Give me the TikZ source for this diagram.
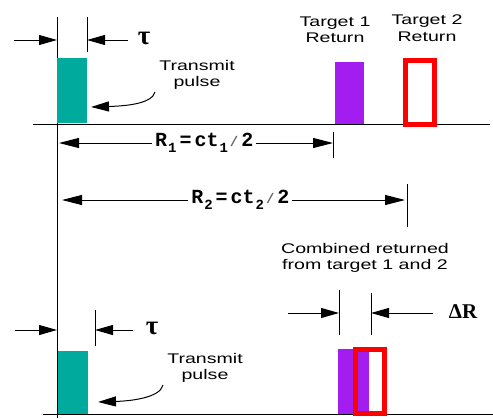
\documentclass[tikz,border=0pt]{standalone}
\usepackage{fontspec}
\setmainfont{Liberation Serif}
\setsansfont[FakeStretch=1.4]{Liberation Sans}
\newfontfamily\labmono{Liberation Mono}
\usetikzlibrary{arrows.meta}
\definecolor{pulseteal}{RGB}{0,170,157}
\definecolor{tgtpurple}{RGB}{163,28,240}
\definecolor{tgtred}{RGB}{255,0,0}
\tikzset{
  dimarrow/.style={-{Triangle[length=18pt,width=10pt]}, line width=1pt},
  dimboth/.style={{Triangle[length=20pt,width=10pt]}-{Triangle[length=20pt,width=10pt]}, line width=1pt},
  axisline/.style={line width=1pt},
  lbl/.style={font=\sffamily\fontsize{14}{16.5}\selectfont, align=center, inner sep=0pt},
  eqlbl/.style={font=\labmono\bfseries\fontsize{20}{20}\selectfont, fill=white, inner sep=3pt},
  greek/.style={font=\bfseries\fontsize{21}{21}\selectfont, inner sep=0pt},
  taustyle/.style={font=\bfseries\fontsize{27}{27}\selectfont, inner sep=0pt},
  redbox/.style={draw=tgtred, line width=5pt},
}
\newcommand{\sbone}[1]{\kern1pt\raisebox{-6pt}{\fontsize{14}{14}\selectfont #1}}
\newcommand{\eqsl}{\kern2pt{\color{black!60}\fontsize{14}{14}\selectfont/}\kern3pt}
\newcommand{\eqeq}{\kern3pt=\kern3pt}
\begin{document}
\begin{tikzpicture}[x=1pt,y=-1pt]
\useasboundingbox (0,0) rectangle (493,418);
% axes
\coordinate (axtop) at (57,17);
\coordinate (axbot) at (57,418);
\draw[axisline] (axtop) -- (axbot);
\coordinate (bl1a) at (33,124); \coordinate (bl1b) at (490,124);
\draw[axisline] (bl1a) -- (bl1b);
\coordinate (bl2a) at (43,414); \coordinate (bl2b) at (493,414);
\draw[axisline] (bl2a) -- (bl2b);

% ---- top trace ----
\fill[pulseteal] (57,58) rectangle (87,123);
\fill[tgtpurple] (335,62) rectangle (364,124);
\draw[redbox] (405.5,60.5) rectangle (434.5,124.5);

% tau top
\coordinate (tk1a) at (87,17); \coordinate (tk1b) at (87,52);
\draw[axisline] (tk1a) -- (tk1b);
\coordinate (ta1l) at (14,40); \coordinate (ta1le) at (57,40);
\coordinate (ta1r) at (128,40); \coordinate (ta1re) at (87,40);
\draw[dimarrow] (ta1l) -- (ta1le);
\draw[dimarrow] (ta1r) -- (ta1re);
\node[taustyle] (tau1) at (144,38) {τ};

\node[lbl] (tp1) at (197,75) {Transmit\\pulse};
\coordinate (tp1s) at (155,92); \coordinate (tp1e) at (91,107);
\draw[dimarrow] (tp1s) .. controls (152,104) and (125,106) .. (tp1e);

\node[lbl] (t1r) at (335,30) {Target 1\\Return};
\node[lbl] (t2r) at (427,28) {Target 2\\Return};

% R1
\coordinate (r1tka) at (333,132); \coordinate (r1tkb) at (333,158);
\draw[axisline] (r1tka) -- (r1tkb);
\coordinate (r1l) at (59,143); \coordinate (r1r) at (333,143);
\draw[dimboth] (r1l) -- (r1r) node[eqlbl, pos=0.53] (r1lab) {R\sbone{1}\eqeq ct\sbone{1}\eqsl 2};

% R2
\coordinate (r2tka) at (407,184); \coordinate (r2tkb) at (407,227);
\draw[axisline] (r2tka) -- (r2tkb);
\coordinate (r2l) at (62,200); \coordinate (r2r) at (405,200);
\draw[dimboth] (r2l) -- (r2r) node[eqlbl, pos=0.52] (r2lab) {R\sbone{2}\eqeq ct\sbone{2}\eqsl 2};

% ---- bottom trace ----
\fill[pulseteal] (58,351) rectangle (88,414);
\fill[tgtpurple] (338,349) rectangle (369,414);
\draw[redbox] (355.5,349.5) rectangle (384.5,413.5);

\coordinate (tk2a) at (95,310); \coordinate (tk2b) at (95,346);
\draw[axisline] (tk2a) -- (tk2b);
\coordinate (ta2l) at (15,330); \coordinate (ta2le) at (57,330);
\coordinate (ta2r) at (133,330); \coordinate (ta2re) at (95,330);
\draw[dimarrow] (ta2l) -- (ta2le);
\draw[dimarrow] (ta2r) -- (ta2re);
\node[taustyle] (tau2) at (152,328) {τ};

\node[lbl] (tp2) at (205,368) {Transmit\\pulse};
\coordinate (tp2s) at (163,385); \coordinate (tp2e) at (98,402);
\draw[dimarrow] (tp2s) .. controls (160,398) and (130,401) .. (tp2e);

\node[lbl] (comb) at (365,258) {Combined returned\\from target 1 and 2};

% delta R
\coordinate (dk1a) at (339,290); \coordinate (dk1b) at (339,335);
\coordinate (dk2a) at (371,293); \coordinate (dk2b) at (371,335);
\draw[axisline] (dk1a) -- (dk1b);
\draw[axisline] (dk2a) -- (dk2b);
\coordinate (dal) at (288,313); \coordinate (dale) at (339,313);
\coordinate (dar) at (433,313); \coordinate (dare) at (371,313);
\draw[dimarrow] (dal) -- (dale);
\draw[dimarrow] (dar) -- (dare);
\node[greek] (dR) at (463,312) {ΔR};
\end{tikzpicture}
\end{document}
